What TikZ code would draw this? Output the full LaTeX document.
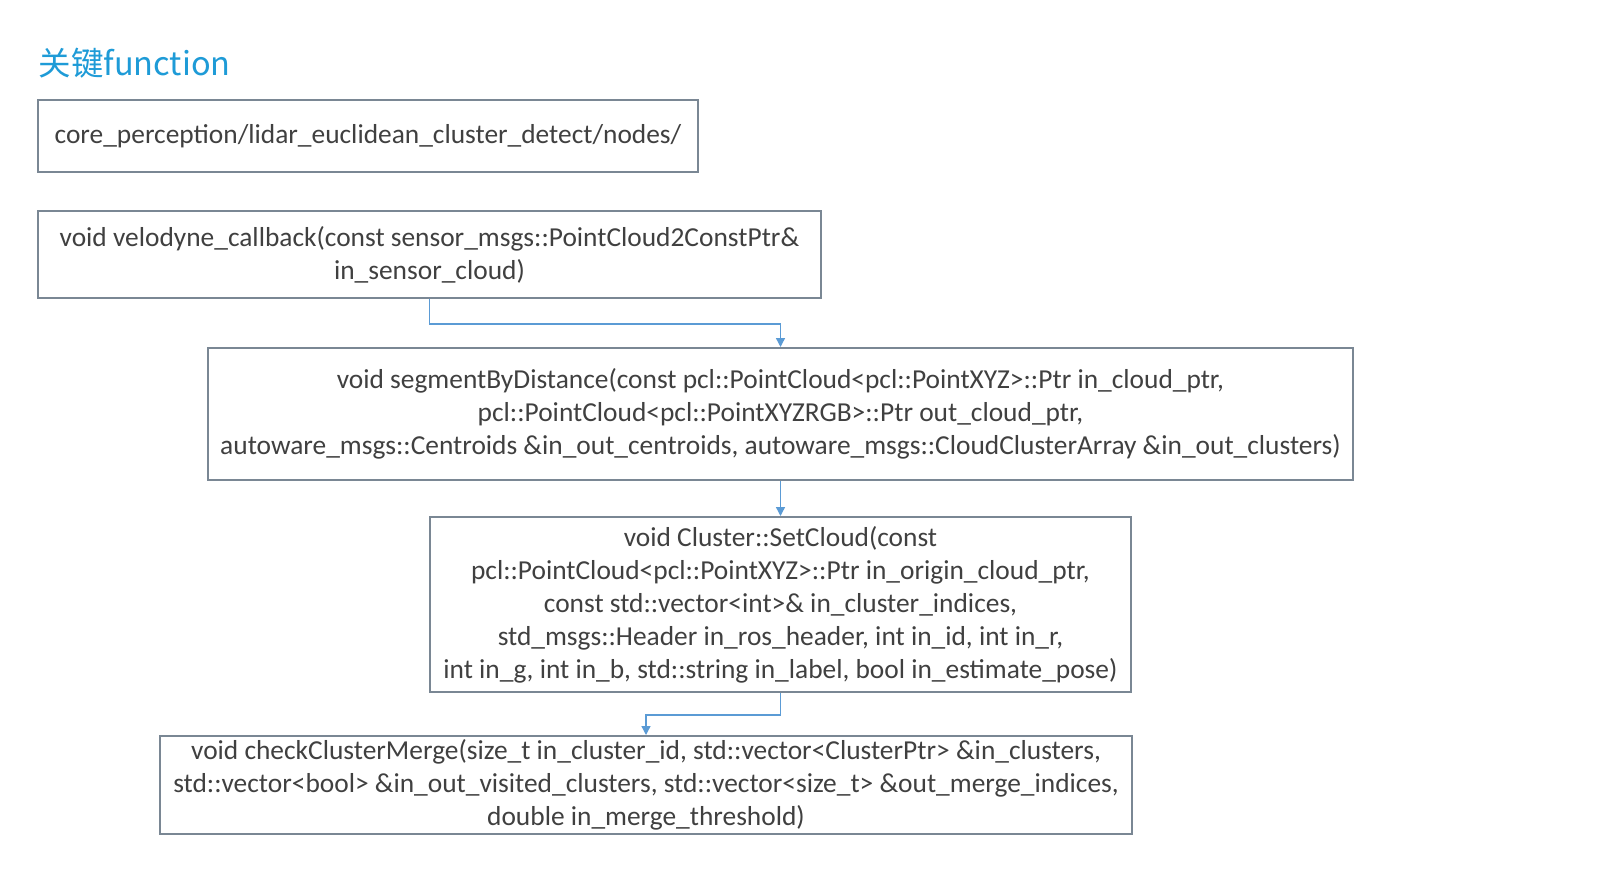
\documentclass[tikz,border=0pt]{standalone}
\usepackage{fontspec}
\setmainfont{Carlito}
\newfontfamily\cjk{Noto Sans CJK SC}
\usetikzlibrary{arrows.meta}
\definecolor{titleblue}{HTML}{1E9BD7}
\definecolor{boxgray}{HTML}{7A8794}
\definecolor{txtgray}{HTML}{404040}
\definecolor{arrblue}{HTML}{5B9BD5}
\begin{document}
\begin{tikzpicture}[x=1pt,y=-1pt,
  fbox/.style={draw=boxgray,line width=2pt,inner sep=0pt,align=center,
    text=txtgray,font=\fontsize{27.4}{33}\selectfont},
  arr/.style={draw=arrblue,line width=1.4pt,-{Triangle[width=9pt,length=9pt]}}]
\useasboundingbox (0,0) rectangle (1607,891);
\fill[white] (0,0) rectangle (1607,891);
\node[anchor=base west,text=titleblue,font=\cjk\fontsize{32.5}{36}\selectfont] (title) at (35,75) {关键function};
\node[fbox,minimum width=660pt,minimum height=72pt] (b1) at (368,136)
  {core\_perception/lidar\_euclidean\_cluster\_detect/nodes/};
\node[fbox,minimum width=783pt,minimum height=87pt] (b2) at (429.5,254.5)
  {void velodyne\_callback(const sensor\_msgs::PointCloud2ConstPtr\&\\in\_sensor\_cloud)};
\node[fbox,minimum width=1145pt,minimum height=132pt] (b3) at (780.5,414)
  {void segmentByDistance(const pcl::PointCloud<pcl::PointXYZ>::Ptr in\_cloud\_ptr,\\
   pcl::PointCloud<pcl::PointXYZRGB>::Ptr out\_cloud\_ptr,\\
   autoware\_msgs::Centroids \&in\_out\_centroids, autoware\_msgs::CloudClusterArray \&in\_out\_clusters)};
\node[fbox,minimum width=701pt,minimum height=175pt] (b4) at (780.5,604.5)
  {void Cluster::SetCloud(const\\
   pcl::PointCloud<pcl::PointXYZ>::Ptr in\_origin\_cloud\_ptr,\\
   const std::vector<int>\& in\_cluster\_indices,\\
   std\_msgs::Header in\_ros\_header, int in\_id, int in\_r,\\
   int in\_g, int in\_b, std::string in\_label, bool in\_estimate\_pose)};
\node[fbox,minimum width=972pt,minimum height=98pt] (b5) at (646,785)
  {void checkClusterMerge(size\_t in\_cluster\_id, std::vector<ClusterPtr> \&in\_clusters,\\
   std::vector<bool> \&in\_out\_visited\_clusters, std::vector<size\_t> \&out\_merge\_indices,\\
   double in\_merge\_threshold)};
\draw[arr] (b2.south) -- ++(0,25) -| (b3.north);
\draw[arr] (b3.south) -- (b4.north);
\draw[arr] (b4.south) -- ++(0,22) -| (b5.north);
\end{tikzpicture}
\end{document}
